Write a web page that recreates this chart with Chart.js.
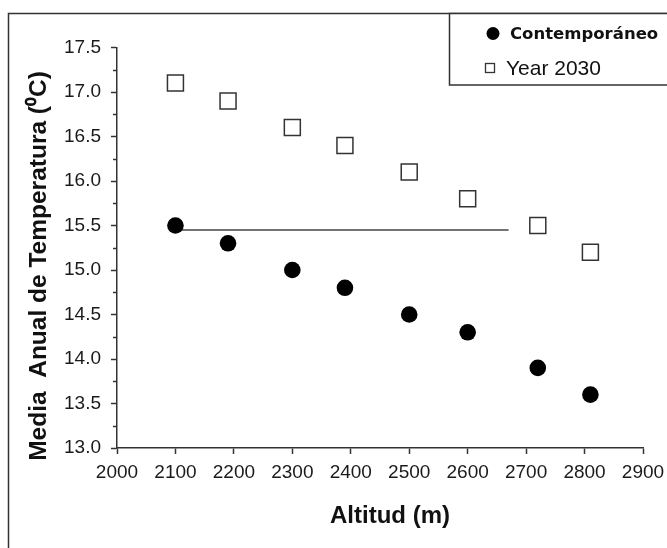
<!DOCTYPE html>
<html><head><meta charset="utf-8">
<script src="https://cdn.jsdelivr.net/npm/chart.js@4.4.1/dist/chart.umd.min.js"></script>
<style>html,body{margin:0;padding:0;background:#fff;}#wrap{width:667px;height:548px;position:relative;}</style>
</head><body><div id="wrap"><canvas id="c" width="667" height="548"></canvas></div>
<script>
const altitudes = [2100, 2190, 2300, 2390, 2500, 2600, 2720, 2810];
const contemporaneo = [15.5, 15.3, 15.0, 14.8, 14.5, 14.3, 13.9, 13.6];
const year2030 = [17.1, 16.9, 16.6, 16.4, 16.1, 15.8, 15.5, 15.2];
const refLineX = [2100, 2670];
const refLineY = [15.45, 15.45];
const seriesLabels = ['Contemporáneo', 'Year 2030'];
const xTitle = 'Altitud (m)';
const yTitle = 'Media  Anual de Temperatura (\u2070C)';

const SANS = '"Liberation Sans", Arial, sans-serif';
const INK = '#1a1a1a';

const toPts = (xs, ys) => xs.map((x, i) => ({x: x, y: ys[i]}));

const decor = {
  id: 'decor',
  beforeDraw(chart) {
    const ctx = chart.ctx;
    ctx.save();
    ctx.fillStyle = '#fff';
    ctx.fillRect(0, 0, chart.width, chart.height);
    ctx.restore();
  },
  afterDraw(chart) {
    const ctx = chart.ctx;
    const ys = chart.scales.y;
    const ca = chart.chartArea;
    ctx.save();
    // minor ticks on y axis
    ctx.strokeStyle = '#333';
    ctx.lineWidth = 1.5;
    const t = ys.ticks;
    for (let i = 0; i < t.length - 1; i++) {
      const v = (t[i].value + t[i + 1].value) / 2;
      const py = Math.round(ys.getPixelForValue(v)) + 0.5;
      ctx.beginPath();
      ctx.moveTo(ca.left - 4, py);
      ctx.lineTo(ca.left, py);
      ctx.stroke();
    }
    // axis titles
    ctx.fillStyle = '#111';
    ctx.font = 'bold 24px ' + SANS;
    ctx.textAlign = 'center';
    ctx.textBaseline = 'middle';
    ctx.fillText(xTitle, 390, 516);
    ctx.save();
    ctx.translate(39, 266);
    ctx.rotate(-Math.PI / 2);
    ctx.font = 'bold 24.5px ' + SANS;
    ctx.fillText(yTitle, 0, 0);
    ctx.restore();
    // outer frame
    ctx.strokeStyle = '#333';
    ctx.lineWidth = 1.5;
    ctx.strokeRect(8.5, 13.5, 800, 800);
    // legend box
    ctx.fillStyle = '#fff';
    ctx.fillRect(449, 13.5, 300, 72);
    ctx.strokeRect(449.5, 13.5, 300, 71.5);
    const ds = chart.data.datasets;
    // item 1
    ctx.fillStyle = ds[0].backgroundColor;
    ctx.beginPath();
    ctx.arc(493, 33.5, 6.5, 0, Math.PI * 2);
    ctx.fill();
    ctx.fillStyle = '#111';
    ctx.textAlign = 'left';
    ctx.font = 'bold 16.5px "DejaVu Sans", sans-serif';
    ctx.fillText(ds[0].label, 510, 35);
    // item 2
    ctx.fillStyle = '#fff';
    ctx.strokeStyle = ds[1].borderColor;
    ctx.lineWidth = 1.3;
    ctx.fillRect(485, 63, 10, 10);
    ctx.strokeRect(485.5, 63.5, 9, 9);
    ctx.fillStyle = '#111';
    ctx.font = '21px ' + SANS;
    ctx.fillText(ds[1].label, 506, 69);
    ctx.restore();
  }
};

new Chart(document.getElementById('c'), {
  type: 'scatter',
  data: {
    datasets: [
      {
        label: seriesLabels[0],
        data: toPts(altitudes, contemporaneo),
        pointStyle: 'circle',
        pointRadius: 8.3,
        pointHoverRadius: 8.3,
        backgroundColor: '#000',
        borderColor: '#000',
        borderWidth: 0,
        order: 1
      },
      {
        label: seriesLabels[1],
        data: toPts(altitudes, year2030),
        pointStyle: 'rect',
        pointRadius: 11.3,
        pointHoverRadius: 11.3,
        backgroundColor: '#fff',
        borderColor: '#333',
        borderWidth: 1.5,
        order: 2
      },
      {
        type: 'line',
        label: 'ref',
        data: toPts(refLineX, refLineY),
        borderColor: '#444',
        borderWidth: 1.5,
        pointRadius: 0,
        fill: false,
        order: 3
      }
    ]
  },
  options: {
    responsive: false,
    animation: false,
    devicePixelRatio: 1,
    layout: {padding: {left: 0, right: 24, top: 47.5, bottom: 0}},
    plugins: {legend: {display: false}, tooltip: {enabled: false}},
    scales: {
      x: {
        type: 'linear',
        min: 2000, max: 2900,
        ticks: {stepSize: 100, color: INK, font: {family: SANS, size: 19}, padding: 7, maxRotation: 0, autoSkip: false, callback: v => String(v)},
        grid: {display: true, drawOnChartArea: false, drawTicks: true, tickLength: 6, tickWidth: 1.5, tickColor: '#333'},
        border: {display: true, color: '#333', width: 1.5},
        afterFit(s) { s.height = 100; s.paddingLeft = 0; s.paddingRight = 0; }
      },
      y: {
        type: 'linear',
        min: 13, max: 17.5,
        ticks: {stepSize: 0.5, color: INK, font: {family: SANS, size: 19}, padding: 10, callback: v => Number(v).toFixed(1)},
        grid: {display: true, drawOnChartArea: false, drawTicks: true, tickLength: 6, tickWidth: 1.5, tickColor: '#333'},
        border: {display: true, color: '#333', width: 1.5},
        afterFit(s) { s.width = 117; s.paddingTop = 0; s.paddingBottom = 0; }
      }
    }
  },
  plugins: [decor]
});
</script></body></html>
